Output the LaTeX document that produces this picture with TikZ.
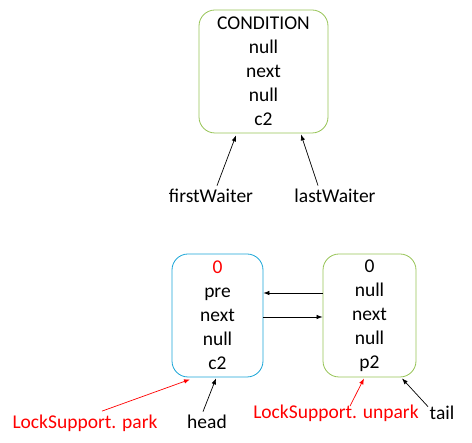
\documentclass[tikz,border=0pt]{standalone}
\usepackage{fontspec}
\setmainfont{Carlito}
\usetikzlibrary{arrows.meta}
\definecolor{boxgreen}{RGB}{150,195,85}
\definecolor{boxblue}{RGB}{25,165,215}
\begin{document}
\begin{tikzpicture}[x=1pt,y=-1pt,
		every node/.style={font=\fontsize{19.5}{24}\selectfont},
		nodebox/.style={draw,rounded corners=16pt,line width=0.8pt,align=center,minimum height=123pt,inner sep=0pt},
		ptr/.style={-{Latex[length=6pt,width=4.5pt]},line width=0.7pt}]
		\useasboundingbox (0,0) rectangle (472,443);
		
		%condition queue
		\node[nodebox,draw=boxgreen,minimum width=129pt] (cond) at (263.5,71.5) {CONDITION\\null\\next\\null\\c2};
		\node (fw) at (211,196) {firstWaiter};
		\node (lw) at (335,196) {lastWaiter};
		\draw[ptr] ([xshift=6pt]fw.north) -- ([xshift=-27.5pt,yshift=-2pt]cond.south);
		\draw[ptr] ([xshift=-17pt]lw.north) -- ([xshift=37.5pt,yshift=-1pt]cond.south);
		
		%sync queue
		\node[nodebox,draw=boxblue,minimum width=91pt] (hnode) at (217.5,315.5) {{\color{red}0}\\pre\\next\\null\\c2};
		\node[nodebox,draw=boxgreen,minimum width=93pt] (tnode) at (369.5,315.5) {0\\null\\next\\null\\p2};
		\draw[ptr] ([yshift=22.5pt]tnode.west) -- ([yshift=22.5pt]hnode.east);
		\draw[ptr] ([yshift=-1.5pt]hnode.east) -- ([yshift=-1.5pt]tnode.west);
		
		%labels below
		\node[red] (park) at (85,423) {LockSupport. park};
		\node (head) at (207,422) {head};
		\node[red] (unpark) at (336,413) {LockSupport. unpark};
		\node (tl) at (442,413) {tail};
		\draw[ptr,red] ([xshift=17pt]park.north) -- ([xshift=-27.5pt,yshift=-2pt]hnode.south);
		\draw[ptr] ([xshift=-4pt]head.north) -- ([xshift=-1.5pt,yshift=-1pt]hnode.south);
		\draw[ptr,red] ([xshift=14pt,yshift=-5pt]unpark.north) -- ([xshift=-5.5pt,yshift=-1pt]tnode.south);
		\draw[ptr] ([xshift=-14pt,yshift=-4pt]tl.north) -- ([xshift=32.5pt,yshift=-1pt]tnode.south);
	\end{tikzpicture}
\end{document}
